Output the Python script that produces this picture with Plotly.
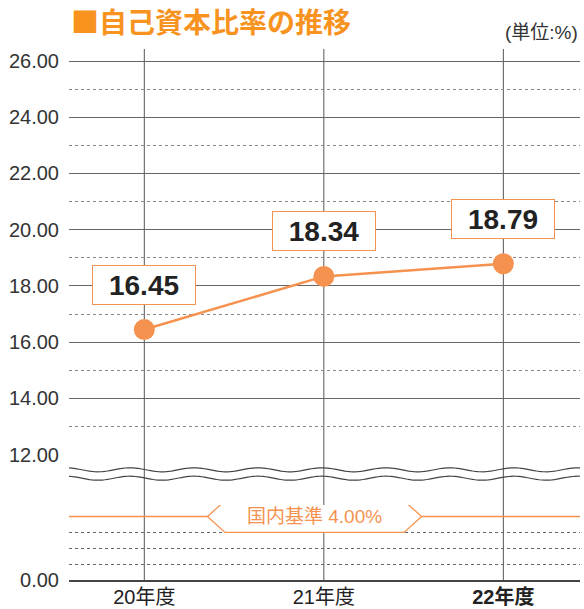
import math
import plotly.graph_objects as go

categories = ["20年度", "21年度", "22年度"]
tick_labels = ["20年度", "21年度", "<b>22年度</b>"]
ratio = [16.45, 18.34, 18.79]
label_text = ["16.45", "18.34", "18.79"]
domestic_std = 4.00
domestic_label = "国内基準 4.00%"
upper_ticks = [12, 14, 16, 18, 20, 22, 24, 26]
upper_ticktext = ["12.00", "14.00", "16.00", "18.00", "20.00", "22.00", "24.00", "26.00"]

ORANGE = "#F5924F"
TITLE_ORANGE = "#F7931E"
NUMFONT = "Liberation Sans, Noto Sans CJK JP"

xs = list(range(len(categories)))

fig = go.Figure()
fig.add_trace(go.Scatter(
    x=xs, y=ratio, mode="lines+markers",
    line=dict(color=ORANGE, width=2.5),
    marker=dict(size=21, color=ORANGE),
    yaxis="y", xaxis="x", hoverinfo="skip", showlegend=False,
))
fig.add_trace(go.Scatter(x=[xs[0]], y=[0], mode="markers", marker=dict(opacity=0),
                         yaxis="y2", xaxis="x", showlegend=False, hoverinfo="skip"))

shapes = []
for xv in xs:
    shapes.append(dict(type="line", xref="x", yref="paper", x0=xv, x1=xv, y0=0, y1=1,
                       line=dict(color="#555555", width=1), layer="below"))
H = 531.0
W = 511.0
def wave(center_px):
    pts = []
    n = 200
    for i in range(n + 1):
        px = 69 + (580 - 69) * i / n
        py = center_px - 2.0 * math.cos(2 * math.pi * (px - 130) / 64.0)
        pts.append(((px - 69) / W, (580 - py) / H))
    return "M " + " L ".join(f"{a:.5f},{b:.5f}" for a, b in pts)
for c in (469.8, 478.2):
    shapes.append(dict(type="path", xref="paper", yref="paper", path=wave(c),
                       line=dict(color="#444444", width=1.2)))
shapes.append(dict(type="line", xref="paper", yref="y2", x0=0, x1=1,
                   y0=domestic_std, y1=domestic_std, line=dict(color=ORANGE, width=1.5)))
xl, xa, xb, xr = 0.271, 0.3053, 0.6556, 0.690
d = domestic_std
shapes.append(dict(type="path", xref="paper", yref="y2",
                   path=f"M {xl},{d} L {xa},{d+1} L {xb},{d+1} L {xr},{d} L {xb},{d-1} L {xa},{d-1} Z",
                   fillcolor="white", line=dict(color=ORANGE, width=1.3)))

annotations = []
for xv, yv, t in zip(xs, ratio, label_text):
    annotations.append(dict(x=xv, y=yv, xref="x", yref="y", text=f"<b>{t}</b>",
                            showarrow=False, yshift=45, width=100, height=36,
                            bgcolor="white", bordercolor=ORANGE, borderwidth=1, borderpad=1,
                            font=dict(family=NUMFONT, size=28, color="#222222")))
annotations.append(dict(x=0.4814, y=domestic_std, xref="paper", yref="y2", text=domestic_label,
                        showarrow=False, font=dict(family=NUMFONT, size=19, color=ORANGE)))
annotations.append(dict(x=0.0, y=(580 - 21) / H, xref="paper", yref="paper",
                        text="<b>■自己資本比率の推移</b>", showarrow=False, xanchor="left", yanchor="middle",
                        font=dict(family="Noto Sans CJK JP", size=28, color=TITLE_ORANGE)))
annotations.append(dict(x=1.0, y=(580 - 32) / H, xref="paper", yref="paper",
                        text="(単位:%)", showarrow=False, xanchor="right", yanchor="middle",
                        font=dict(family=NUMFONT, size=19, color="#333333")))

fig.update_layout(
    width=584, height=609,
    margin=dict(l=69, r=4, t=49, b=29),
    paper_bgcolor="white", plot_bgcolor="white",
    showlegend=False,
    shapes=shapes, annotations=annotations,
    xaxis=dict(range=[-0.4195, 2.427], tickvals=xs, ticktext=tick_labels, showgrid=False,
               zeroline=False, showline=True, linecolor="#444444", linewidth=2,
               anchor="y2", ticks="", ticklabelstandoff=-2, automargin=False,
               tickfont=dict(family=NUMFONT, size=20, color="#222222")),
    yaxis=dict(domain=[(580 - 454.7) / H, 1], range=[12, 26.427], tickvals=upper_ticks,
               ticktext=upper_ticktext, showgrid=True, gridcolor="#666666", gridwidth=1,
               zeroline=False, showline=False, ticks="", ticklabelstandoff=9, automargin=False,
               tickfont=dict(family=NUMFONT, size=20, color="#333333"),
               minor=dict(dtick=1, tick0=0, showgrid=True, gridcolor="#888888", griddash="dot", gridwidth=1)),
    yaxis2=dict(domain=[0, 75 / H], range=[0, 75 / 15.85], tickvals=[0], ticktext=["0.00"],
                showgrid=False, zeroline=False, showline=False, ticks="", ticklabelstandoff=9,
                automargin=False,
                tickfont=dict(family=NUMFONT, size=20, color="#333333"),
                minor=dict(dtick=1, tick0=0, showgrid=True, gridcolor="#666666", griddash="dot", gridwidth=1)),
)

fig.write_html("out.html", config={"displayModeBar": False},
               post_script="document.body.style.margin='0';document.body.style.overflow='hidden';")
